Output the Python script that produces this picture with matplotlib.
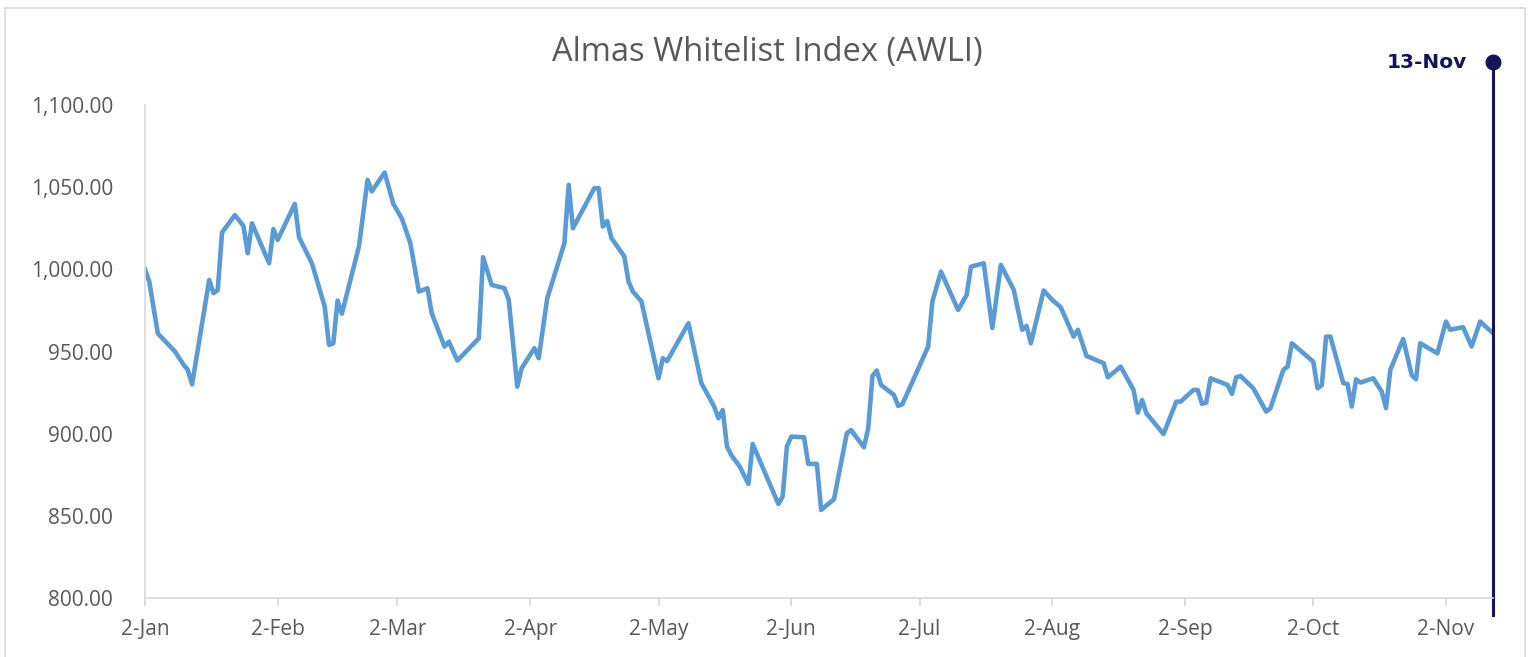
"""Almas Whitelist Index (AWLI) line chart, with a marker for the latest date."""

import matplotlib

matplotlib.use("Agg")
import matplotlib.pyplot as plt
import matplotlib.dates as mdates
import pandas as pd
from matplotlib.patches import Rectangle

LINE_BLUE = "#5B9BD5"
NAVY = "#14145A"
GREY_TXT = "#595959"
GREY_AX = "#D9D9D9"

YEAR = 2023
DATES = [
    "01-02", "01-03", "01-05", "01-09", "01-11", "01-12", "01-13", "01-17", "01-18", "01-19",
    "01-20", "01-23", "01-25", "01-26", "01-27", "01-31",
    "02-01", "02-02", "02-06", "02-07", "02-10", "02-13", "02-14", "02-15", "02-16", "02-17",
    "02-21", "02-23", "02-24", "02-27",
    "03-01", "03-03", "03-05", "03-07", "03-09", "03-10", "03-13", "03-14", "03-16", "03-21",
    "03-22", "03-24", "03-27", "03-28", "03-30", "03-31",
    "04-03", "04-04", "04-06", "04-10", "04-11", "04-12", "04-17", "04-18", "04-19", "04-20",
    "04-21", "04-24", "04-25", "04-26", "04-28",
    "05-02", "05-03", "05-04", "05-09", "05-12", "05-15", "05-16", "05-17", "05-18", "05-19",
    "05-21", "05-23", "05-24", "05-30", "05-31",
    "06-01", "06-02", "06-05", "06-06", "06-08", "06-09", "06-12", "06-15", "06-16", "06-19",
    "06-20", "06-21", "06-22", "06-23", "06-26", "06-27", "06-28",
    "07-04", "07-05", "07-07", "07-11", "07-13", "07-14", "07-17", "07-19", "07-21", "07-24",
    "07-26", "07-27", "07-28", "07-31",
    "08-02", "08-04", "08-07", "08-08", "08-10", "08-14", "08-15", "08-18", "08-21", "08-22",
    "08-23", "08-24", "08-28", "08-31",
    "09-01", "09-04", "09-05", "09-06", "09-07", "09-08", "09-12", "09-13", "09-14", "09-15",
    "09-18", "09-21", "09-22", "09-25", "09-26", "09-27",
    "10-02", "10-03", "10-04", "10-05", "10-06", "10-09", "10-10", "10-11", "10-12", "10-13",
    "10-16", "10-18", "10-19", "10-20", "10-23", "10-25", "10-26", "10-27", "10-31",
    "11-02", "11-03", "11-06", "11-08", "11-10", "11-13",
]
VALUES = [
    1000, 992.5, 961, 950, 942, 938.8, 930, 993.5, 985.5, 987.5,
    1022.4, 1033, 1026.4, 1009.8, 1028, 1003.7,
    1024.5, 1017.9, 1039.8, 1019.5, 1003.7, 977.3, 954, 955, 981, 973,
    1014, 1054.4, 1047.4, 1058.9,
    1040, 1031, 1016, 986.5, 988.5, 973.3, 953, 956, 944.5, 958,
    1007.4, 990.5, 988.5, 981.4, 928.6, 939.8,
    952, 945.9, 982.4, 1015.9, 1051.4, 1025, 1049.4, 1049.4, 1026, 1029.4,
    1019, 1007.9, 992.5, 986.5, 980.5,
    933.7, 945.9, 944.2, 967.2, 930.8, 916.5, 909.4, 914.4, 892.1, 887,
    879.9, 869.4, 893.7, 857.2, 861.7,
    892.1, 898.2, 897.8, 881.6, 881.6, 853.6, 860.1, 900.2, 902.2, 891.7,
    903.3, 935.1, 938.4, 929.6, 923.6, 916.9, 918,
    953, 980.5, 998.6, 975.3, 984.4, 1001.6, 1003.7, 964.3, 1002.7, 987.5,
    963.2, 965.6, 955, 987.1,
    981.4, 976.9, 959.1, 963.2, 947.3, 942.9, 934.3, 940.8, 926.6, 912.8,
    920.5, 912.4, 899.8, 919.5,
    919.5, 926.6, 926.6, 918.1, 918.9, 933.7, 929.6, 924.2, 934.3, 935.1,
    927.6, 913.4, 915.5, 938.8, 940.8, 955,
    943.8, 927.6, 929.6, 959.1, 959.1, 930.8, 930.2, 916.5, 933.1, 931.1,
    933.7, 925.6, 915.5, 938.8, 957.6, 935.7, 933.1, 955, 948.9,
    968.2, 963.2, 964.8, 953, 968.2, 961.1,
]
TICK_DATES = ["01-02", "02-02", "03-02", "04-02", "05-02", "06-02",
              "07-02", "08-02", "09-02", "10-02", "11-02"]
TICK_LABELS = ["2-Jan", "2-Feb", "2-Mar", "2-Apr", "2-May", "2-Jun",
               "2-Jul", "2-Aug", "2-Sep", "2-Oct", "2-Nov"]
Y_TICKS = [800, 850, 900, 950, 1000, 1050, 1100]
MARK_LABEL = "13-Nov"


def main() -> None:
    plt.rcParams["font.family"] = ["Open Sans", "DejaVu Sans"]

    dates = pd.to_datetime([f"{YEAR}-{d}" for d in DATES])
    ticks = pd.to_datetime([f"{YEAR}-{d}" for d in TICK_DATES])

    W, H = 1533, 657
    fig = plt.figure(figsize=(W / 100, H / 100), dpi=100)
    ax = fig.add_axes([145 / W, 1 - 598 / H, (1493 - 145) / W, (598 - 105) / H])

    # outer chart frame
    fig.patches.append(Rectangle((5 / W, -0.01), 1520 / W, 1.01 - 8 / H,
                                 transform=fig.transFigure, fill=False,
                                 edgecolor=GREY_AX, linewidth=1.2))

    ax.plot(dates, VALUES, color=LINE_BLUE, lw=3.3, solid_joinstyle="round")

    ax.set_xlim(dates[0], dates[-1])
    ax.set_ylim(Y_TICKS[0], Y_TICKS[-1])
    ax.set_xticks(ticks)
    ax.set_xticklabels(TICK_LABELS)
    ax.set_yticks(Y_TICKS)
    ax.set_yticklabels([f"{v:,.2f}" for v in Y_TICKS])

    for s in ("top", "right"):
        ax.spines[s].set_visible(False)
    for s in ("left", "bottom"):
        ax.spines[s].set_color(GREY_AX)
        ax.spines[s].set_linewidth(1.2)
    ax.tick_params(axis="x", colors=GREY_AX, length=6, width=1.2, pad=9,
                   labelcolor=GREY_TXT, labelsize=15)
    ax.tick_params(axis="y", length=0, pad=23, labelcolor=GREY_TXT, labelsize=15)

    # latest-date marker line
    last = mdates.date2num(dates[-1])
    trans = ax.get_xaxis_transform()
    ax.plot([last, last], [-17 / 493, 536 / 493], color=NAVY, lw=2.2,
            transform=trans, clip_on=False)
    ax.plot([last], [536 / 493], "o", color=NAVY, ms=10.5,
            transform=trans, clip_on=False)
    ax.text(last - 6, 536 / 493, MARK_LABEL, transform=trans, ha="right", va="center",
            fontsize=14.5, fontweight="bold", color=NAVY, clip_on=False,
            family="DejaVu Sans")

    fig.text(767 / W, 1 - 53 / H, "Almas Whitelist Index (AWLI)", ha="center", va="center",
             fontsize=23.5, color=GREY_TXT)

    fig.savefig("out.png", dpi=100, facecolor="white")
    plt.close(fig)


if __name__ == "__main__":
    main()
